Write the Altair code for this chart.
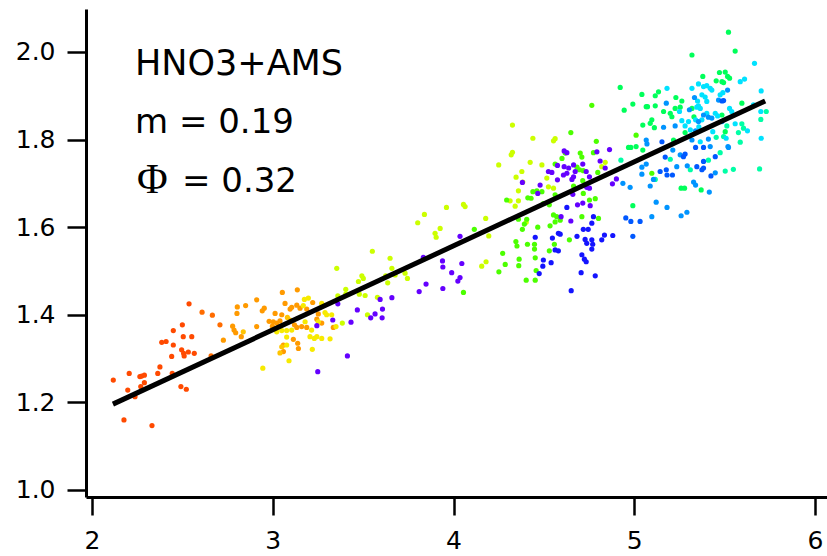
import altair as alt
import pandas as pd

# ---- scatter points, grouped by colour band ----
red_x = [2.118, 2.206, 2.265, 2.275, 2.29, 2.29, 2.27, 2.198, 2.238, 2.177, 2.332, 2.364, 2.376, 2.444, 2.441,
         2.386, 2.41, 2.45, 2.45, 2.5, 2.505, 2.552, 2.496, 2.507, 2.51, 2.533, 2.566, 2.492, 2.522, 2.537]
red_y = [1.251, 1.266, 1.259, 1.26, 1.262, 1.245, 1.236, 1.228, 1.213, 1.16, 1.147, 1.266, 1.281, 1.266, 1.305,
         1.337, 1.339, 1.331, 1.364, 1.377, 1.35, 1.35, 1.32, 1.312, 1.306, 1.315, 1.312, 1.236, 1.23, 1.425]

redorange_x = [2.609, 2.666, 2.708, 2.659]
redorange_y = [1.406, 1.399, 1.377, 1.306]

orange_x = [2.727, 2.778, 2.786, 2.795, 2.804, 2.802, 2.85, 2.826, 2.911, 2.942, 2.953, 2.911, 3.053, 3.136, 3.068,
            3.013, 3.05, 2.98, 3.003, 3.022, 2.998, 3.04, 3.096, 3.105, 3.133, 3.151, 3.188, 3.221, 3.252, 3.244,
            3.271, 3.12, 3.133, 3.16, 3.188, 3.114, 3.138, 3.142, 3.059, 3.059, 3.335]
orange_y = [1.342, 1.374, 1.365, 1.359, 1.418, 1.403, 1.421, 1.35, 1.434, 1.409, 1.415, 1.373, 1.451, 1.457, 1.426,
            1.403, 1.4, 1.385, 1.384, 1.381, 1.374, 1.386, 1.413, 1.417, 1.422, 1.415, 1.413, 1.428, 1.402, 1.39,
            1.381, 1.377, 1.371, 1.373, 1.371, 1.344, 1.335, 1.323, 1.331, 1.316, 1.371]

amber_x = [2.837, 3.081, 3.096, 3.05, 3.04]
amber_y = [1.361, 1.394, 1.388, 1.327, 1.313]

yellow_x = [3.175, 3.169, 3.197, 3.105, 3.077, 3.05, 3.022, 3.077, 3.077, 3.09, 2.945, 3.215, 3.23, 3.206, 3.244,
            3.271, 3.317, 3.219, 3.179, 3.252, 3.289, 3.298, 3.326, 3.35, 3.271]
yellow_y = [1.435, 1.421, 1.438, 1.365, 1.364, 1.364, 1.361, 1.349, 1.331, 1.295, 1.278, 1.365, 1.346, 1.35, 1.35,
            1.346, 1.345, 1.321, 1.384, 1.384, 1.405, 1.4, 1.4, 1.373, 1.426]

lime_x = [3.385, 3.354, 3.36, 3.404, 3.404, 3.479, 3.511, 3.474, 3.493, 3.501, 3.551, 3.579, 3.524, 3.625, 3.636,
          3.659, 3.649, 3.677, 3.732, 3.745, 4.326, 4.439, 4.319, 4.326, 4.25, 4.424, 4.378, 4.346, 4.359, 4.383,
          4.359, 4.313, 4.341, 4.055, 4.064, 3.961, 3.839, 3.802, 3.926, 3.898, 3.904, 4.178, 4.195, 4.156, 4.18,
          4.402, 4.562, 4.553, 4.839, 4.82, 4.489, 4.516, 4.525, 4.553]
lime_y = [1.381, 1.506, 1.443, 1.458, 1.447, 1.447, 1.444, 1.476, 1.489, 1.483, 1.545, 1.44, 1.4, 1.489, 1.473,
          1.506, 1.529, 1.491, 1.495, 1.483, 1.833, 1.803, 1.765, 1.771, 1.742, 1.748, 1.727, 1.714, 1.683, 1.703,
          1.66, 1.66, 1.648, 1.652, 1.647, 1.645, 1.629, 1.61, 1.597, 1.586, 1.577, 1.62, 1.58, 1.511, 1.521,
          1.611, 1.802, 1.797, 1.748, 1.738, 1.742, 1.712, 1.692, 1.689]

green_x = [4.294, 4.115, 4.359, 4.405, 4.392, 4.381, 4.466, 4.345, 4.351, 4.409, 4.448, 4.448, 4.452, 4.272, 4.286,
           4.363, 4.361, 4.251, 4.402, 4.452, 4.457, 4.055, 4.439, 4.461, 4.411, 4.429, 4.765, 4.649, 4.79, 5.01,
           4.6, 4.618, 4.701, 4.71, 4.774, 4.562, 4.489, 4.562, 4.683, 4.697, 4.718, 4.798, 4.715, 4.664, 4.718,
           4.752, 4.784, 4.802, 4.71, 4.553, 4.571, 4.562, 4.59, 4.534, 4.558, 4.53, 4.641, 5.097, 4.497, 4.53]
green_y = [1.662, 1.595, 1.618, 1.618, 1.607, 1.595, 1.6, 1.567, 1.557, 1.561, 1.561, 1.55, 1.53, 1.54, 1.515,
           1.527, 1.512, 1.498, 1.479, 1.479, 1.501, 1.451, 1.681, 1.683, 1.667, 1.666, 1.878, 1.816, 1.796, 1.81,
           1.757, 1.769, 1.769, 1.76, 1.77, 1.744, 1.681, 1.674, 1.737, 1.731, 1.729, 1.725, 1.706, 1.694, 1.677,
           1.662, 1.665, 1.62, 1.624, 1.628, 1.624, 1.612, 1.616, 1.603, 1.561, 1.546, 1.571, 1.723, 1.654, 1.651]

spring_x = [4.922, 5.042, 5.116, 5.134, 4.992, 5.066, 5.073, 5.116, 4.944, 5.097, 5.111, 5.047, 5.088, 4.968, 4.981,
            5.01, 5.047, 4.992, 5.521, 5.558, 5.319, 5.379, 5.471, 5.503, 5.516, 5.527, 5.453, 5.485, 5.494, 5.23,
            5.263, 5.162, 5.199, 5.208, 5.226, 5.254, 5.319, 5.33, 5.485, 5.595, 5.503, 5.217, 5.281, 5.259, 5.278,
            5.37]
spring_y = [1.919, 1.903, 1.9, 1.909, 1.881, 1.875, 1.875, 1.877, 1.867, 1.845, 1.827, 1.833, 1.837, 1.782, 1.782,
            1.784, 1.776, 1.649, 2.045, 2.002, 1.993, 1.944, 1.953, 1.954, 1.944, 1.94, 1.934, 1.932, 1.93, 1.896,
            1.888, 1.864, 1.86, 1.852, 1.871, 1.874, 1.871, 1.852, 1.856, 1.883, 1.818, 1.799, 1.816, 1.689, 1.689,
            1.685]

aqua_x = [4.926, 5.116, 5.73, 5.7, 5.512, 5.595, 5.604, 5.576, 5.453, 5.494, 5.586, 5.475, 5.199, 5.31, 5.41,
          5.503, 5.548, 5.693]
aqua_y = [1.753, 1.709, 1.864, 1.846, 1.831, 1.836, 1.826, 1.816, 1.805, 1.807, 1.794, 1.77, 1.755, 1.731, 1.753,
          1.728, 1.732, 1.733]

cyan_x = [5.665, 5.586, 5.61, 5.355, 5.383, 5.401, 5.319, 5.42, 5.429, 5.181, 5.702, 5.35, 5.374, 5.392, 5.401,
          5.475, 5.49, 5.346, 5.365, 5.355, 5.25, 5.401, 5.448, 5.461, 5.339, 5.374, 5.527, 5.539, 5.659, 5.7,
          5.558, 5.626, 5.263, 5.281, 5.3, 5.31, 5.357, 5.434, 5.508, 5.702, 5.365]
cyan_y = [1.974, 1.932, 1.938, 1.927, 1.921, 1.923, 1.917, 1.917, 1.913, 1.917, 1.911, 1.888, 1.902, 1.897, 1.887,
          1.902, 1.907, 1.874, 1.871, 1.877, 1.864, 1.86, 1.86, 1.854, 1.845, 1.845, 1.871, 1.864, 1.879, 1.864,
          1.836, 1.82, 1.843, 1.831, 1.841, 1.822, 1.829, 1.818, 1.803, 1.803, 1.795]

azure_x = [4.937, 4.977, 5.042, 5.066, 5.042, 5.088, 5.121, 5.066, 5.07, 5.106, 5.097, 5.177, 5.333, 5.466, 5.516,
           5.305, 5.383, 5.41, 5.429, 5.355, 5.485, 5.226, 5.339, 5.518, 5.162, 5.319, 5.41, 5.42, 5.521, 5.213,
           5.254, 5.235, 5.293, 5.448, 5.328, 5.339, 5.415, 5.181, 5.291, 5.259]
azure_y = [1.7, 1.691, 1.737, 1.744, 1.721, 1.694, 1.657, 1.799, 1.79, 1.709, 1.624, 1.883, 1.896, 1.89, 1.913,
           1.868, 1.856, 1.851, 1.849, 1.841, 1.841, 1.831, 1.82, 1.784, 1.828, 1.799, 1.801, 1.784, 1.782, 1.776,
           1.765, 1.738, 1.74, 1.724, 1.703, 1.696, 1.68, 1.645, 1.634, 1.626]

blue_x = [5.485, 5.494, 5.153, 5.339, 5.383, 5.448, 5.171, 5.272, 5.281, 5.211, 5.181, 5.177, 5.143, 5.346, 5.374,
          5.383, 5.424, 5.383, 4.953, 4.981, 5.032, 4.992]
blue_y = [1.888, 1.889, 1.795, 1.782, 1.782, 1.761, 1.76, 1.761, 1.767, 1.719, 1.719, 1.731, 1.727, 1.738, 1.731,
          1.75, 1.717, 1.735, 1.621, 1.613, 1.613, 1.579]

deepblue_x = [4.627, 4.774, 4.765, 4.718, 4.745, 4.58, 4.59, 4.547, 4.683, 4.728, 4.765, 4.737, 4.77, 4.835, 4.82,
              4.881, 4.765, 4.562, 4.58, 4.71, 4.724, 4.734, 4.497, 4.54, 4.706, 4.784, 4.651, 4.452, 4.494, 4.474]
deepblue_y = [1.645, 1.624, 1.609, 1.595, 1.595, 1.586, 1.584, 1.575, 1.579, 1.572, 1.571, 1.563, 1.561, 1.582, 1.571,
              1.581, 1.55, 1.548, 1.546, 1.537, 1.527, 1.521, 1.525, 1.519, 1.496, 1.489, 1.455, 1.577, 1.511, 1.494]

violet_x = [3.244, 3.332, 3.36, 3.433, 3.468, 3.413, 3.249, 3.542, 3.566, 3.605, 3.607, 3.594, 3.659, 3.81, 3.848,
            3.833, 4.036, 3.939, 3.941, 4.046, 3.99, 4.036, 4.024, 3.941, 4.381, 4.479, 4.466, 4.612, 4.627, 4.793,
            4.863, 4.575, 4.612, 4.637, 4.664, 4.715, 4.525, 4.544, 4.575, 4.673, 4.664, 4.655, 4.734, 4.752, 4.811,
            4.839, 4.608, 4.627, 4.901, 4.879, 4.737, 4.752, 4.66, 4.686, 4.715, 4.756, 4.649, 4.595]
violet_y = [1.375, 1.388, 1.425, 1.383, 1.411, 1.306, 1.27, 1.393, 1.402, 1.393, 1.413, 1.435, 1.439, 1.453, 1.47,
            1.531, 1.579, 1.523, 1.509, 1.517, 1.496, 1.485, 1.477, 1.46, 1.702, 1.696, 1.677, 1.774, 1.77, 1.772,
            1.777, 1.741, 1.738, 1.735, 1.742, 1.744, 1.727, 1.725, 1.708, 1.727, 1.715, 1.709, 1.727, 1.715, 1.751,
            1.735, 1.719, 1.723, 1.71, 1.699, 1.691, 1.689, 1.675, 1.651, 1.655, 1.649, 1.614, 1.624]

band_names = ["red", "redorange", "orange", "amber", "yellow", "lime", "green", "spring",
              "aqua", "cyan", "azure", "blue", "deepblue", "violet"]
band_colors = ["#ff4a00", "#ff6c00", "#ff9a00", "#ffc400", "#f7ea00", "#ccff00", "#4cff00", "#00ff5a",
               "#00ffa6", "#00e2ff", "#0094ff", "#0058ff", "#1414ff", "#6400ff"]
band_x = [red_x, redorange_x, orange_x, amber_x, yellow_x, lime_x, green_x, spring_x,
          aqua_x, cyan_x, azure_x, blue_x, deepblue_x, violet_x]
band_y = [red_y, redorange_y, orange_y, amber_y, yellow_y, lime_y, green_y, spring_y,
          aqua_y, cyan_y, azure_y, blue_y, deepblue_y, violet_y]

# ---- fitted line end points ----
fit_x = [2.116, 5.724]
fit_y = [1.196, 1.888]

# ---- axis ticks ----
x_ticks = [2, 3, 4, 5, 6]
y_ticks = [1.0, 1.2, 1.4, 1.6, 1.8, 2.0]

rows = []
for name, xs, ys in zip(band_names, band_x, band_y):
    for xv, yv in zip(xs, ys):
        rows.append({"x": xv, "y": yv, "band": name})
pts_df = pd.DataFrame(rows)
fit_df = pd.DataFrame({"x": fit_x, "y": fit_y})

xscale = alt.Scale(domain=[1.967, 6.066], nice=False, zero=False)
yscale = alt.Scale(domain=[0.984, 2.098], nice=False, zero=False)

xaxis = alt.Axis(values=x_ticks, format="d", title=None, tickSize=18, labelPadding=13,
                 labelFlush=False, labelOverlap=False)
yaxis = alt.Axis(values=y_ticks, format=".1f", title=None, tickSize=19, labelPadding=12,
                 labelFlush=False, labelOverlap=False)

points = alt.Chart(pts_df).mark_circle(size=27, opacity=1).encode(
    x=alt.X("x:Q", scale=xscale, axis=xaxis),
    y=alt.Y("y:Q", scale=yscale, axis=yaxis),
    color=alt.Color("band:N", scale=alt.Scale(domain=band_names, range=band_colors), legend=None),
)

fit = alt.Chart(fit_df).mark_line(color="black", strokeWidth=5, strokeCap="butt").encode(
    x=alt.X("x:Q", scale=xscale),
    y=alt.Y("y:Q", scale=yscale),
)

font = "DejaVu Sans"
t1 = alt.Chart(pd.DataFrame({"t": ["HNO3+AMS"]})).mark_text(
    font=font, fontSize=35, align="left", baseline="alphabetic", color="black"
).encode(text="t:N", x=alt.value(49), y=alt.value(66))
t2 = alt.Chart(pd.DataFrame({"t": ["m = 0.19"]})).mark_text(
    font=font, fontSize=34, align="left", baseline="alphabetic", color="black"
).encode(text="t:N", x=alt.value(49), y=alt.value(124))
t3a = alt.Chart(pd.DataFrame({"t": ["Φ"]})).mark_text(
    font="Liberation Serif", fontSize=42, align="left", baseline="alphabetic", color="black"
).encode(text="t:N", x=alt.value(51), y=alt.value(184))
t3b = alt.Chart(pd.DataFrame({"t": ["= 0.32"]})).mark_text(
    font=font, fontSize=34, align="left", baseline="alphabetic", color="black"
).encode(text="t:N", x=alt.value(96), y=alt.value(183))

chart = alt.layer(points, fit, t1, t2, t3a, t3b).properties(
    width=741, height=488,
    padding={"left": 86, "top": 9, "right": 0, "bottom": 59},
    autosize=alt.AutoSizeParams(type="none"),
).configure_view(stroke=None).configure_axis(
    grid=False, domainColor="black", domainWidth=3, tickColor="black", tickWidth=2.5,
    labelColor="black", labelFont=font, labelFontSize=25,
)

chart.save("out.html", embed_options={"renderer": "svg", "actions": False})
